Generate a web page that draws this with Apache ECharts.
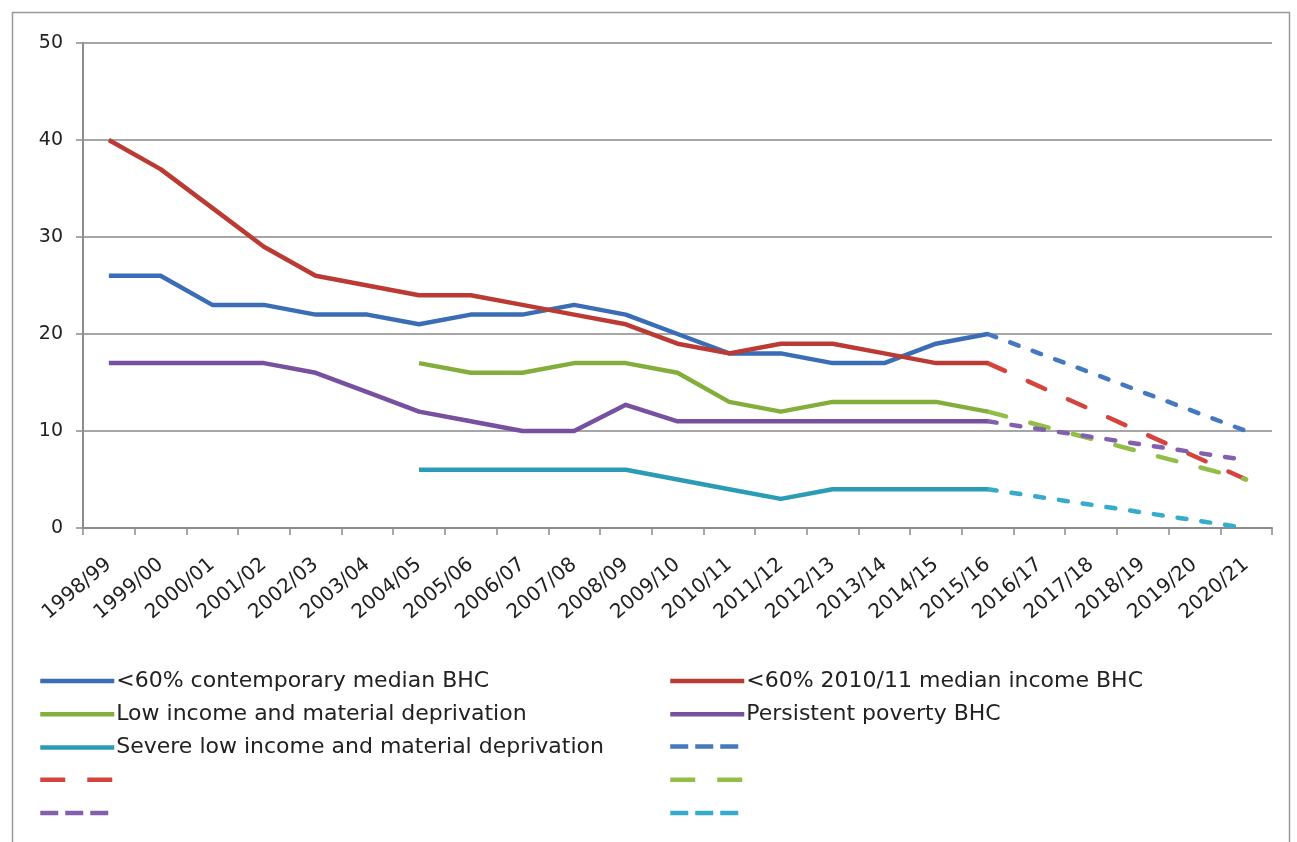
<!DOCTYPE html>
<html><head><meta charset="utf-8">
<script src="https://cdn.jsdelivr.net/npm/echarts@6/dist/echarts.min.js"></script>
<style>html,body{margin:0;padding:0;background:#fff}#c{width:1297px;height:842px}</style>
</head><body><div id="c"></div>
<script>
const categories = ['1998/99','1999/00','2000/01','2001/02','2002/03','2003/04','2004/05','2005/06','2006/07','2007/08','2008/09','2009/10','2010/11','2011/12','2012/13','2013/14','2014/15','2015/16','2016/17','2017/18','2018/19','2019/20','2020/21'];
const contemporary = [26,26,23,23,22,22,21,22,22,23,22,20,18,18,17,17,19,20,null,null,null,null,null];
const fixed2010 = [40,37,33,29,26,25,24,24,23,22,21,19,18,19,19,18,17,17,null,null,null,null,null];
const lowIncomeMD = [null,null,null,null,null,null,17,16,16,17,17,16,13,12,13,13,13,12,null,null,null,null,null];
const persistent = [17,17,17,17,16,14,12,11,10,10,12.7,11,11,11,11,11,11,11,null,null,null,null,null];
const severe = [null,null,null,null,null,null,6,6,6,6,6,5,4,3,4,4,4,4,null,null,null,null,null];
const projContemporary = [null,null,null,null,null,null,null,null,null,null,null,null,null,null,null,null,null,20,null,null,null,null,10];
const projFixed = [null,null,null,null,null,null,null,null,null,null,null,null,null,null,null,null,null,17,null,null,null,null,5];
const projLowIncome = [null,null,null,null,null,null,null,null,null,null,null,null,null,null,null,null,null,12,null,null,null,null,5];
const projPersistent = [null,null,null,null,null,null,null,null,null,null,null,null,null,null,null,null,null,11,null,null,null,null,7];
const projSevere = [null,null,null,null,null,null,null,null,null,null,null,null,null,null,null,null,null,4,null,null,null,null,0];
const yTicks = [0,10,20,30,40,50];

const FONT = '"DejaVu Sans", "Noto Sans", sans-serif';
const SHORT = 'short', LONG = 'long';
const defs = [
  {name:'<60% contemporary median BHC', data:contemporary, color:'#3A6DB5', type:'solid'},
  {name:'<60% 2010/11 median income BHC', data:fixed2010, color:'#BB3A33', type:'solid'},
  {name:'Low income and material deprivation', data:lowIncomeMD, color:'#84AE3C', type:'solid'},
  {name:'Persistent poverty BHC', data:persistent, color:'#7850A0', type:'solid'},
  {name:'Severe low income and material deprivation', data:severe, color:'#2C9BB6', type:'solid'},
  {name:'p1', data:projContemporary, color:'#4478C0', type:SHORT},
  {name:'p2', data:projFixed, color:'#D4433C', type:LONG},
  {name:'p3', data:projLowIncome, color:'#92BE48', type:LONG},
  {name:'p4', data:projPersistent, color:'#8260AE', type:SHORT},
  {name:'p5', data:projSevere, color:'#37ABCC', type:SHORT}
];
const dashOf = t => t===SHORT ? [9,15] : t===LONG ? [19,25] : 'solid';
const legendDashOf = t => t===SHORT ? [18,7] : t===LONG ? [25,22] : 'solid';
const series = defs.map(d => ({
  name:d.name, type:'line', data:d.data, connectNulls:true, symbol:'none', showSymbol:false,
  color:d.color,
  lineStyle:{color:d.color, width:4.5, type:dashOf(d.type), cap: d.type==='solid' ? 'butt' : 'round', join:'round'},
  animation:false, z: d.type==='solid'?3:2
}));
const legends = defs.map((d,i)=>({
  data:[d.name], left: (i%2===0) ? 33 : 663, top: 665 + Math.floor(i/2)*33.25, orient:'horizontal',
  itemWidth:74, itemHeight:20, itemGap:4, selectedMode:false,
  itemStyle:{opacity:0},
  lineStyle:{width:4.5, color:d.color, type: legendDashOf(d.type), cap:'butt'},
  formatter: n => (n.length===2 && n[0]==='p') ? '' : n,
  textStyle:{fontFamily:FONT, fontSize:22, color:'#222', padding:[0,0,0,-3]}
}));
const chart = echarts.init(document.getElementById('c'), null, {renderer:'canvas'});
chart.setOption({
  backgroundColor:'#fff',
  animation:false,
  graphic:[{type:'rect', left:10, top:10, shape:{width:1277, height:840, r:0}, style:{fill:'none', stroke:'#999', lineWidth:1.5}, silent:true}],
  grid:{left:83, right:25, top:43, bottom:314, containLabel:false},
  legend: legends,
  xAxis:{type:'category', data:categories, boundaryGap:true,
    axisLine:{show:true, lineStyle:{color:'#8c8c8c', width:2}},
    axisTick:{show:true, alignWithLabel:false, length:7, lineStyle:{color:'#8c8c8c', width:1.5}},
    axisLabel:{rotate:40, interval:0, fontFamily:FONT, fontSize:20, color:'#222', margin:34},
    splitLine:{show:false}},
  yAxis:{type:'value', min:0, max:50, interval:10,
    axisLine:{show:true, lineStyle:{color:'#8c8c8c', width:2}},
    axisTick:{show:true, length:7, lineStyle:{color:'#8c8c8c', width:1.5}},
    axisLabel:{fontFamily:FONT, fontSize:19, color:'#222', margin:20},
    splitLine:{show:true, lineStyle:{color:'#a6a6a6', width:2}}},
  series: series
});
</script></body></html>
